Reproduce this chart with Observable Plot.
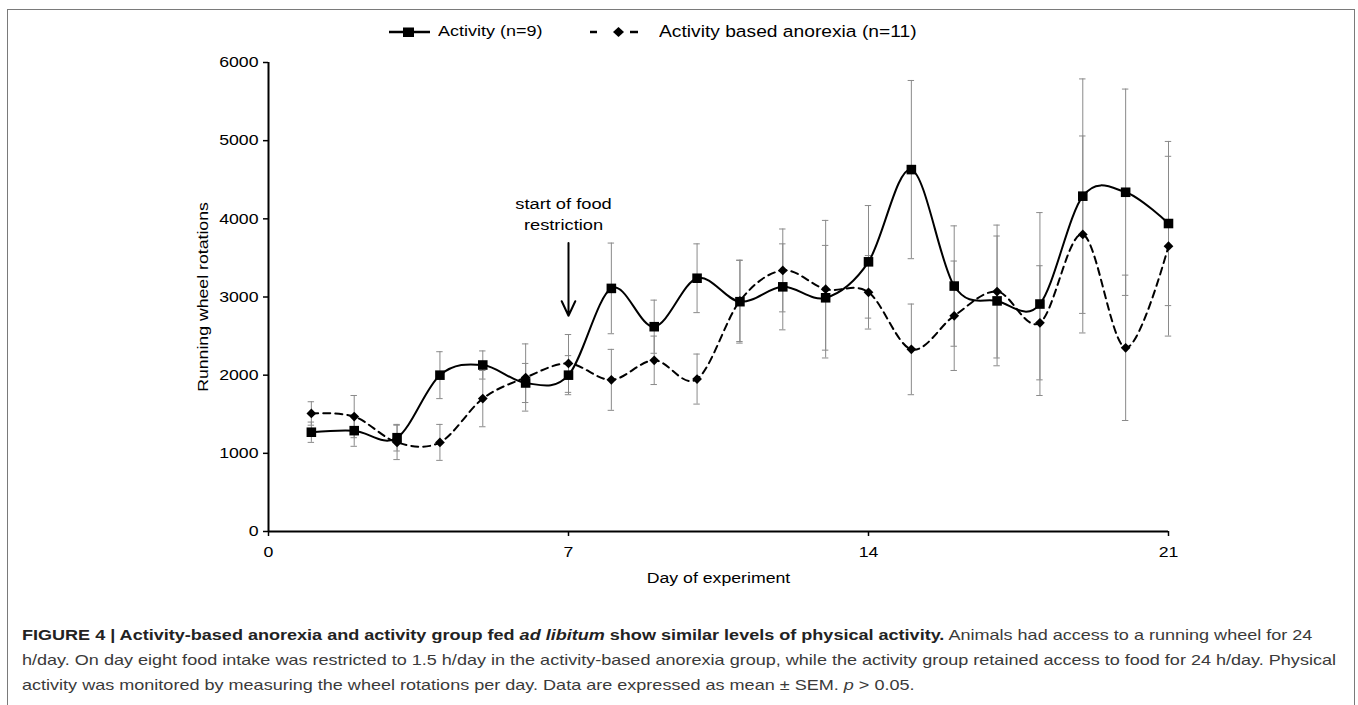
<!DOCTYPE html>
<html><head><meta charset="utf-8">
<script src="https://cdn.jsdelivr.net/npm/d3@7"></script>
<script src="https://cdn.jsdelivr.net/npm/@observablehq/plot@0.6"></script>
<style>
html,body{margin:0;padding:0;background:#fff}
body{width:1358px;height:705px;position:relative;overflow:hidden;font-family:"Liberation Sans",Arial,Helvetica,sans-serif}
#frame{position:absolute;left:7px;top:9px;width:1348px;height:740px;border:1.5px solid #7a7a7a;box-sizing:border-box}
#chart{position:absolute;left:0;top:50px}
.lg{position:absolute;white-space:nowrap;color:#000;transform-origin:0 50%}
#caption{position:absolute;left:22px;top:623px;font-size:14.5px;line-height:25px;color:#3a3a3a;white-space:nowrap;transform-origin:0 0}
#caption b{color:#222}
</style>
</head><body>
<div id="frame"></div>
<svg class="lg" style="left:386px;top:22px" width="48" height="20"><line x1="3" y1="10" x2="44" y2="10" stroke="#000" stroke-width="2.5"/><rect x="17" y="5.5" width="11" height="9.5" fill="#000"/></svg>
<svg class="lg" style="left:586px;top:22px" width="56" height="20"><line x1="4" y1="10" x2="11" y2="10" stroke="#000" stroke-width="2.5"/><path d="M32.5,5 L38,10 L32.5,15 L27,10 Z" fill="#000"/><line x1="44" y1="10" x2="52" y2="10" stroke="#000" stroke-width="2.5"/></svg>
<div class="lg" id="lg1" style="left:438px;top:21px;font-size:15px;line-height:20px;transform:scaleX(1.2)">Activity (n=9)</div>
<div class="lg" id="lg2" style="left:659px;top:20px;font-size:16.3px;line-height:22px;transform:scaleX(1.18)">Activity based anorexia (n=11)</div>
<div id="chart"></div>
<div id="caption"><b>FIGURE 4 | Activity-based anorexia and activity group fed <i>ad libitum</i> show similar levels of physical activity.</b> Animals had access to a running wheel for 24<br><span id="cap2">h/day. On day eight food intake was restricted to 1.5 h/day in the activity-based anorexia group, while the activity group retained access to food for 24 h/day. Physical</span><br>activity was monitored by measuring the wheel rotations per day. Data are expressed as mean ± SEM. <i>p</i> &gt; 0.05.</div>
<script>
// ---- data ----
const days = [1,2,3,4,5,6,7,8,9,10,11,12,13,14,15,16,17,18,19,20,21];
const activityMean = [1270,1290,1200,2000,2130,1900,2000,3110,2620,3240,2940,3130,2990,3450,4630,3140,2950,2910,4290,4340,3940];
const activitySem  = [130,200,170,300,180,250,250,580,340,440,530,550,670,720,1140,770,830,1170,1500,1320,1050];
const abaMean = [1510,1470,1140,1140,1700,1970,2150,1940,2190,1950,2950,3340,3100,3060,2330,2760,3070,2670,3800,2350,3650];
const abaSem  = [150,270,220,230,360,430,370,390,310,320,520,530,880,470,580,700,850,730,1260,930,1150];
const xTicks = [0,7,14,21];
const yTicks = [0,1000,2000,3000,4000,5000,6000];
const annotationDay = 7;
const annotationTextY = 4075;
const arrowFrom = 3690, arrowTo = 2760;
const annotationText = "start of food\nrestriction";

const activity = days.map((d,i)=>({day:d, v:activityMean[i], lo:activityMean[i]-activitySem[i], hi:activityMean[i]+activitySem[i]}));
const aba = days.map((d,i)=>({day:d, v:abaMean[i], lo:abaMean[i]-abaSem[i], hi:abaMean[i]+abaSem[i]}));
const both = activity.concat(aba);
const capHalf = 0.075;
const errColor = "#8a8a8a";

const chart = Plot.plot({
  width: 1358, height: 545,
  marginLeft: 268, marginRight: 190, marginTop: 12, marginBottom: 64,
  style: {fontFamily: '"Liberation Sans", Arial, sans-serif', fontSize: "15px", color: "#000", background: "transparent"},
  x: {domain: [0,21]},
  y: {domain: [0,6000]},
  marks: [
    Plot.axisY({ticks: yTicks, tickFormat: d => String(d), tickSize: 5, tickPadding: 5, fontSize: 15, strokeWidth: 1.5,
      label: "Running wheel rotations", labelAnchor: "center", labelArrow: "none", labelOffset: 71}),
    Plot.axisX({ticks: xTicks, tickFormat: d => String(d), tickSize: 5, tickPadding: 10, fontSize: 15, strokeWidth: 1.5,
      label: "Day of experiment", labelAnchor: "center", labelArrow: "none", labelOffset: 51}),
    Plot.ruleX(both, {x: "day", y1: "lo", y2: "hi", stroke: errColor, strokeWidth: 1}),
    Plot.ruleY(both, {y: "lo", x1: d=>d.day-capHalf, x2: d=>d.day+capHalf, stroke: errColor, strokeWidth: 1}),
    Plot.ruleY(both, {y: "hi", x1: d=>d.day-capHalf, x2: d=>d.day+capHalf, stroke: errColor, strokeWidth: 1}),
    Plot.ruleX([0], {y1: 0, y2: 6000, stroke: "#000", strokeWidth: 2}),
    Plot.ruleY([0], {x1: 0, x2: 21, stroke: "#000", strokeWidth: 2}),
    Plot.line(aba, {x: "day", y: "v", curve: "cardinal", stroke: "#000", strokeWidth: 2, strokeDasharray: "7,5"}),
    Plot.line(activity, {x: "day", y: "v", curve: "cardinal", stroke: "#000", strokeWidth: 2}),
    Plot.dot(aba, {x: "day", y: "v", symbol: "diamond2", r: 4.4, fill: "#000"}),
    Plot.dot(activity, {x: "day", y: "v", symbol: "square", r: 5.4, fill: "#000"}),
    Plot.text([annotationText], {x: annotationDay, y: annotationTextY, text: d=>d, fontSize: 15.5, lineHeight: 1.35, textAnchor: "middle", dx: -5}),
    Plot.arrow([annotationDay], {x1: d=>d, x2: d=>d, y1: arrowFrom, y2: arrowTo, stroke: "#000", strokeWidth: 2, headLength: 12, headAngle: 50})
  ]
});
document.getElementById("chart").appendChild(chart);

// the source figure's lettering is drawn wide: stretch each label along its baseline about its anchor
const stretch = 1.18;
chart.querySelectorAll("text").forEach(t => {
  const tr = t.getAttribute("transform");
  if (tr) t.setAttribute("transform", tr + ` scale(${stretch},1)`);
  else {
    const x = +t.getAttribute("x") || 0, y = +t.getAttribute("y") || 0;
    t.setAttribute("transform", `translate(${x},${y}) scale(${stretch},1) translate(${-x},${-y})`);
  }
});

// caption: fit the longest (second) line to the figure width
const cap = document.getElementById("caption");
const w2 = document.getElementById("cap2").getBoundingClientRect().width;
cap.style.transform = `scaleX(${1314 / w2})`;
</script>
</body></html>
